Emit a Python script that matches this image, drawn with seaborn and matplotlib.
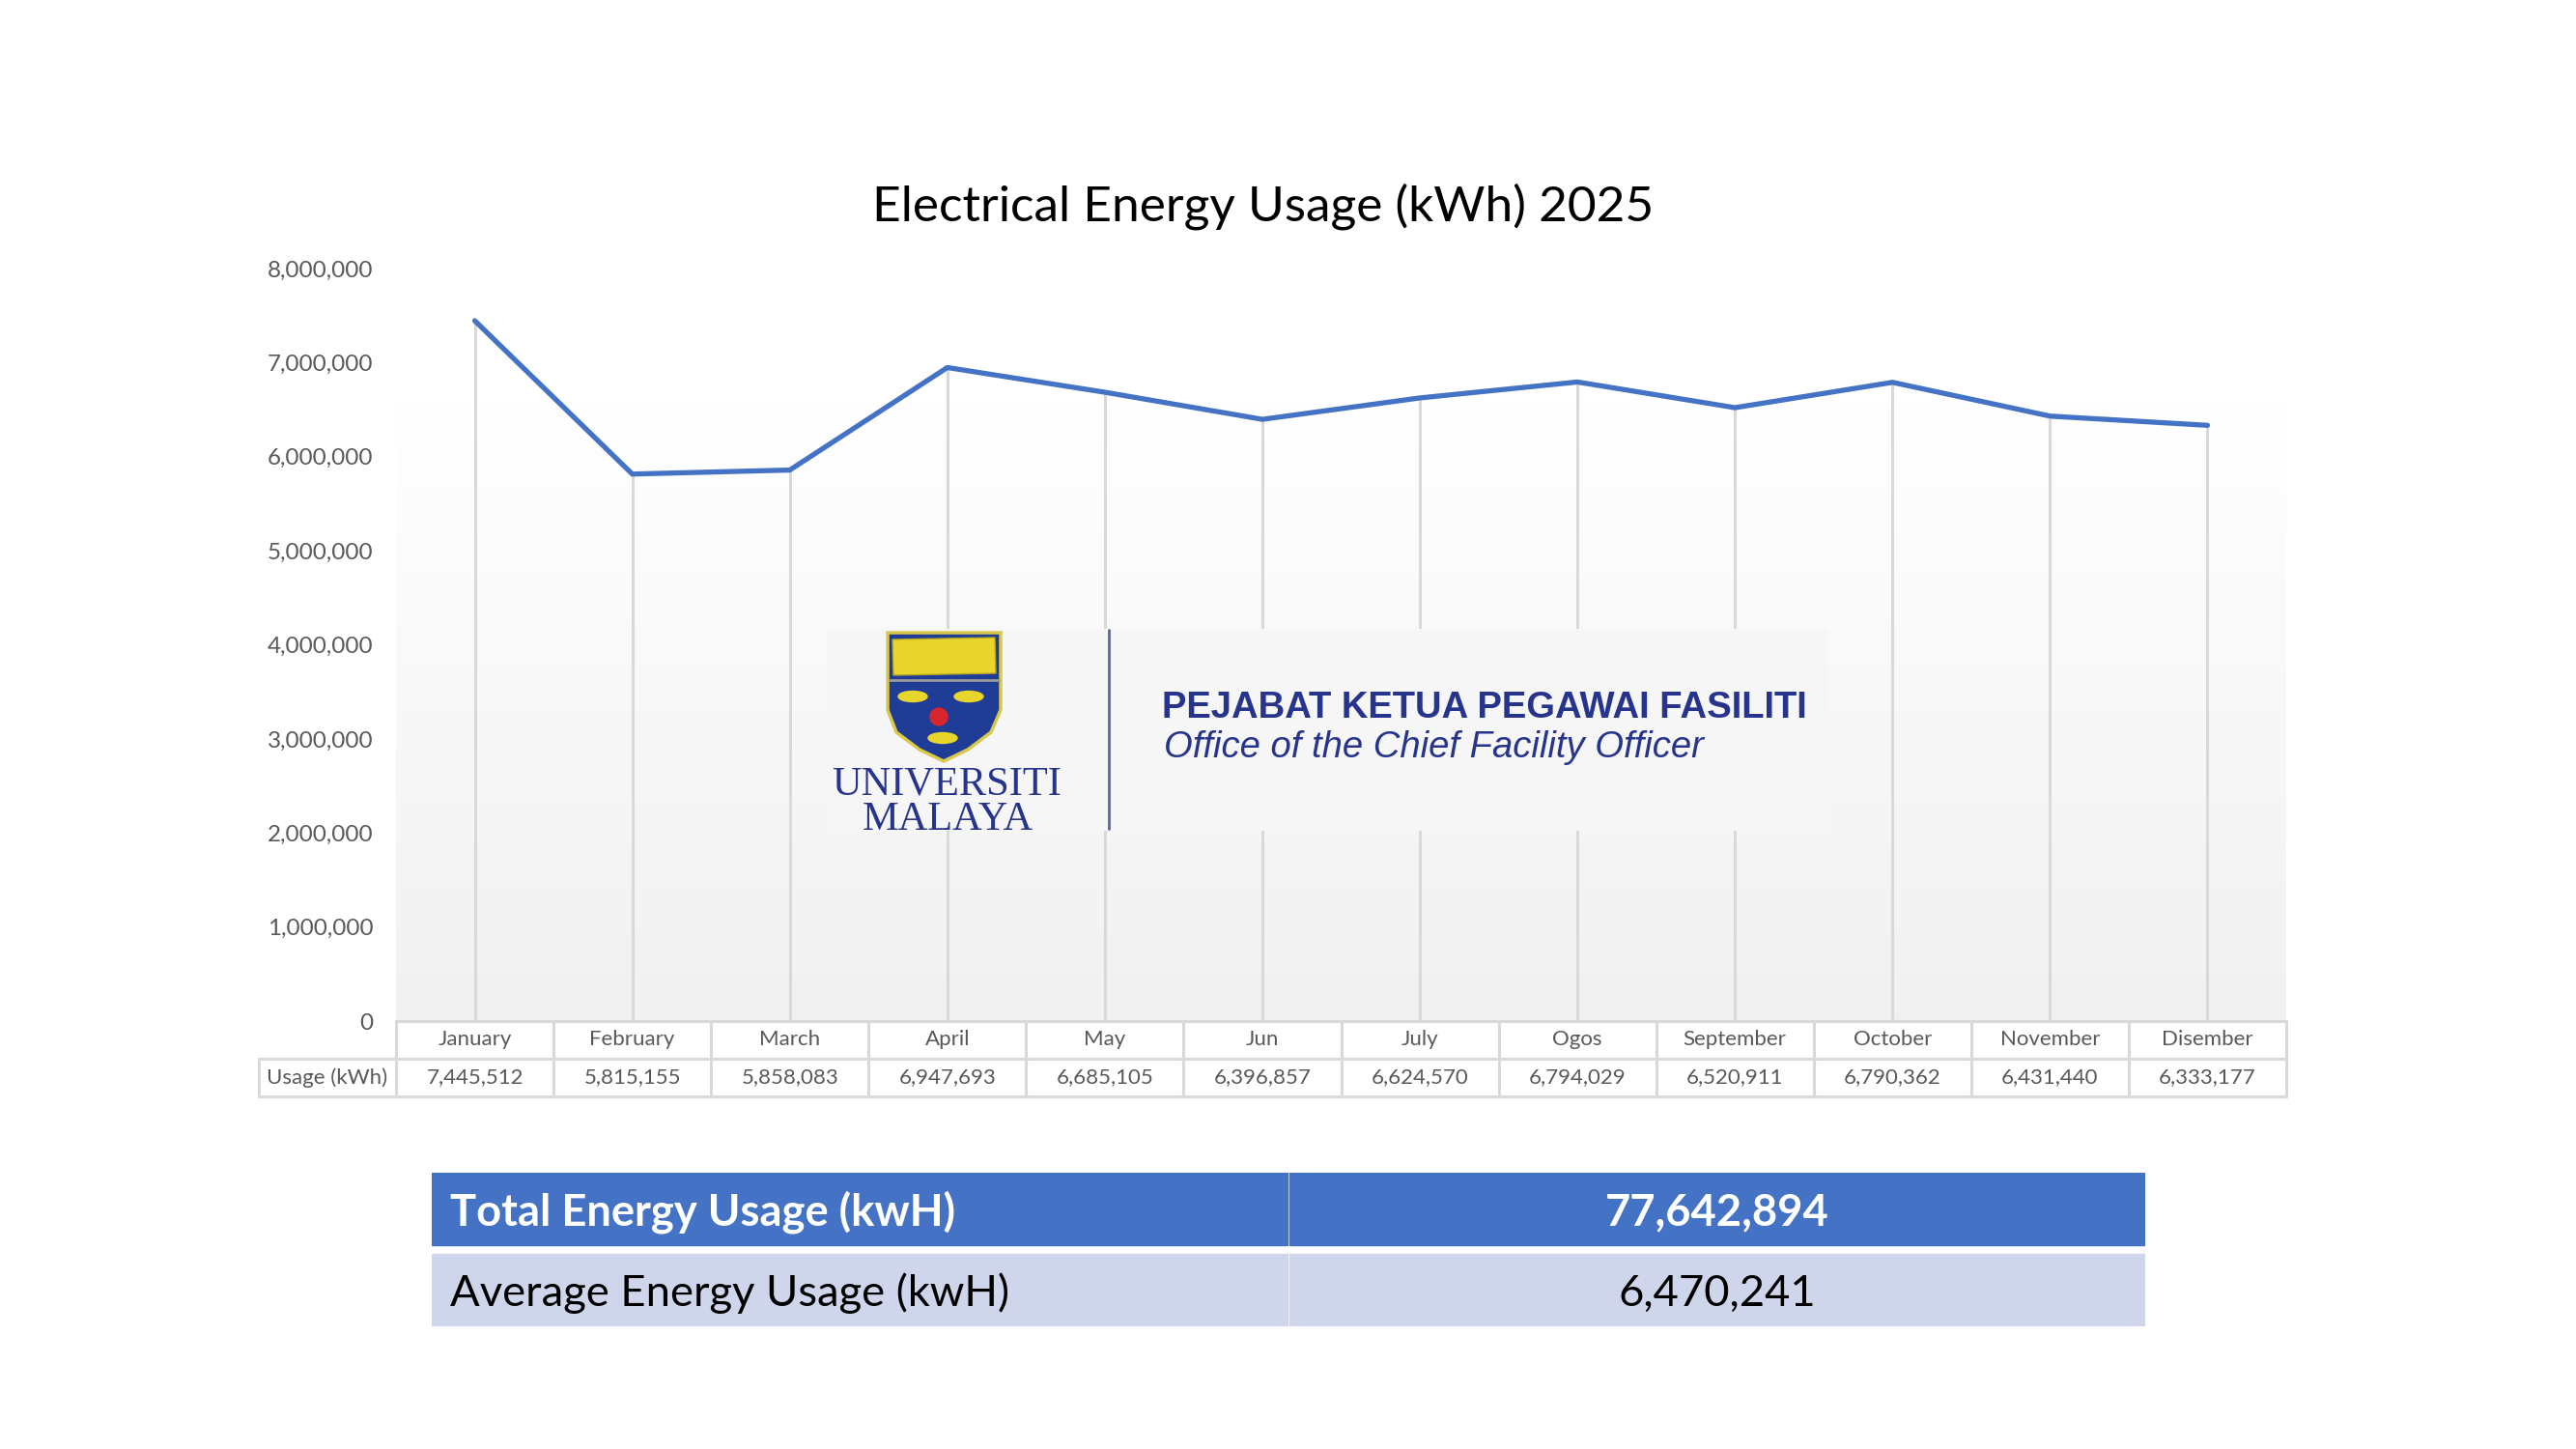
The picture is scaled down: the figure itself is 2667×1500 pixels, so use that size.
import numpy as np
import pandas as pd
import matplotlib
matplotlib.use("Agg")
import matplotlib.pyplot as plt
import seaborn as sns
from matplotlib.colors import LinearSegmentedColormap
from matplotlib.patches import Polygon, Rectangle, Circle, Ellipse
from matplotlib.ticker import StrMethodFormatter, MultipleLocator

# data
MONTHS = ["January", "February", "March", "April", "May", "Jun", "July",
          "Ogos", "September", "October", "November", "Disember"]
USAGE_KWH = [7445512, 5815155, 5858083, 6947693, 6685105, 6396857,
             6624570, 6794029, 6520911, 6790362, 6431440, 6333177]
ROW_LABEL = "Usage (kWh)"
TITLE = "Electrical Energy Usage (kWh) 2025"
SUMMARY_LABELS = ["Total Energy Usage (kwH)", "Average Energy Usage (kwH)"]
SUMMARY_VALUES = [77642894, 6470241]

LINE_BLUE = "#4472C4"
GRID_GREY = "#D9D9D9"
TEXT_GREY = "#595959"
NAVY = "#27348B"

sns.set_style("white")
plt.rcParams["font.family"] = ["Lato", "DejaVu Sans"]

W, H = 2667, 1500
fig = plt.figure(figsize=(W / 100, H / 100), dpi=100)


def fig_box(x0, y0, x1, y1):
    # pixel box (top-left origin) -> figure fraction rect
    return [x0 / W, 1 - y1 / H, (x1 - x0) / W, (y1 - y0) / H]


df = pd.DataFrame({"idx": np.arange(len(MONTHS)), "month": MONTHS, "usage": USAGE_KWH})

ax = fig.add_axes(fig_box(410, 278, 2367, 1057))
n = len(MONTHS)
ax.set_xlim(-0.5, n - 0.5)
ax.set_ylim(0, 8_000_000)

# plot area gradient (white at top, light grey at bottom)
yy = np.linspace(8_000_000, 0, 400)
t = np.clip((6_600_000 - yy) / 6_600_000, 0, 1)
grad = np.tile(t[:, None], (1, 2))
cmap = LinearSegmentedColormap.from_list("bg", ["#FFFFFF", "#F1F1F1"])
ax.imshow(grad, extent=[-0.5, n - 0.5, 0, 8_000_000], aspect="auto",
          cmap=cmap, vmin=0, vmax=1, zorder=0, interpolation="bilinear")

# drop lines
ax.vlines(df["idx"], 0, df["usage"], color=GRID_GREY, lw=2.2, zorder=1)
sns.lineplot(data=df, x="idx", y="usage", color=LINE_BLUE, lw=3.8, ax=ax,
             zorder=3, sort=False)

for s in ax.spines.values():
    s.set_visible(False)
ax.set_xticks([])
ax.set_xlabel("")
ax.set_ylabel("")
ax.yaxis.set_major_locator(MultipleLocator(1_000_000))
ax.yaxis.set_major_formatter(StrMethodFormatter("{x:,.0f}"))
ax.tick_params(axis="y", length=0, pad=17, labelsize=17.5, labelcolor=TEXT_GREY)

# data table under the axis
tr = ax.get_xaxis_transform()
row_mid, row_bot = -0.05, -0.1
left_edge = -0.5 - 142 / 163.1
kw = dict(color=GRID_GREY, lw=2.2, transform=tr, clip_on=False, zorder=4)
ax.plot([-0.5, n - 0.5], [0, 0], **kw)
ax.plot([left_edge, n - 0.5], [row_mid, row_mid], **kw)
ax.plot([left_edge, n - 0.5], [row_bot, row_bot], **kw)
ax.plot([left_edge, left_edge], [row_mid, row_bot], **kw)
for k in range(n + 1):
    ax.plot([k - 0.5, k - 0.5], [0, row_bot], **kw)
for i, (m, v) in enumerate(zip(MONTHS, USAGE_KWH)):
    ax.text(i, row_mid / 2, m, transform=tr, ha="center", va="center",
            fontsize=16, color=TEXT_GREY, clip_on=False)
    ax.text(i, (row_mid + row_bot) / 2, f"{v:,}", transform=tr, ha="center",
            va="center", fontsize=16, color=TEXT_GREY, clip_on=False)
ax.text((left_edge - 0.5) / 2, (row_mid + row_bot) / 2, ROW_LABEL, transform=tr,
        ha="center", va="center", fontsize=16, color=TEXT_GREY, clip_on=False)

fig.text(1308 / W, 1 - 214 / H, TITLE, ha="center", va="center",
         fontsize=37, color="black")

# logo block (drawn in pixel coordinates of its own axes)
lg = fig.add_axes(fig_box(857, 651, 1893, 860))
lg.set_xlim(857, 1893)
lg.set_ylim(860, 651)
lg.axis("off")
lg.add_patch(Rectangle((857, 651), 1036, 209, color="#F6F6F6", zorder=0))
shield = [(919, 655), (1036, 655), (1036, 735), (1026, 758), (1002, 776),
          (977, 788), (952, 776), (928, 758), (919, 735)]
lg.add_patch(Polygon(shield, closed=True, fc="#1F3C96", ec="#D9C84A", lw=2.5, zorder=1))
lg.add_patch(Polygon([(924, 662), (1030, 660), (1031, 697), (925, 699)],
                     closed=True, fc="#E8D62C", ec="#B8A620", lw=1, zorder=2))
lg.plot([921, 1034], [704, 704], color="#9A9A9A", lw=2, zorder=2)
for cx, cy in [(945, 721), (1003, 721), (976, 764)]:
    lg.add_patch(Ellipse((cx, cy), 30, 11, color="#E8D62C", zorder=2))
lg.add_patch(Circle((972, 742), 9, color="#D7262E", zorder=2))
lg.text(980, 812, "UNIVERSITI", ha="center", va="center", fontsize=30.5,
        family="Liberation Serif", color=NAVY)
lg.text(981, 849, "MALAYA", ha="center", va="center", fontsize=30.5,
        family="Liberation Serif", color=NAVY)
lg.plot([1148, 1148], [652, 858], color="#5866A6", lw=2)
lg.text(1203, 733, "PEJABAT KETUA PEGAWAI FASILITI", ha="left", va="center",
        fontsize=27.5, fontweight="bold", family="Liberation Sans", color=NAVY)
lg.text(1205, 774, "Office of the Chief Facility Officer", ha="left", va="center",
        fontsize=27.5, style="italic", family="Liberation Sans", color=NAVY)

# summary table
st = fig.add_axes(fig_box(447, 1214, 2221, 1373))
st.set_xlim(447, 2221)
st.set_ylim(1373, 1214)
st.axis("off")
row_tops = [1214, 1298]
row_colors = ["#4472C4", "#CFD5EA"]
text_colors = ["white", "black"]
weights = ["bold", "normal"]
for top, fc, tc, wt, lab, val in zip(row_tops, row_colors, text_colors, weights,
                                     SUMMARY_LABELS, SUMMARY_VALUES):
    st.add_patch(Rectangle((447, top), 886, 75, color=fc))
    st.add_patch(Rectangle((1335, top), 886, 75, color=fc))
    st.text(466, top + 41, lab, ha="left", va="center", fontsize=32.7,
            fontweight=wt, color=tc)
    st.text(1778, top + 41, f"{val:,}", ha="center", va="center", fontsize=32.7,
            fontweight=wt, color=tc)

fig.savefig("out.png", dpi=100, facecolor="white")
